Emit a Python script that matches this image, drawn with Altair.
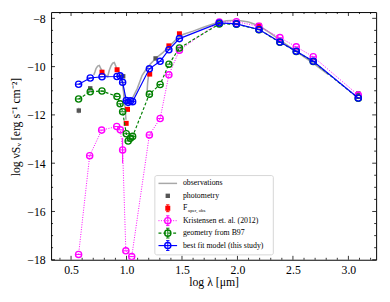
import altair as alt
import pandas as pd

# ---------------- data ----------------
model_x = [0.568, 0.673, 0.779, 0.914, 0.942, 0.965, 0.998, 1.015, 1.035, 1.055,
           1.206, 1.303, 1.382, 1.477, 1.836, 1.991, 2.194, 2.383, 2.530, 2.683, 3.089]
best_y = [-10.73, -10.47, -10.42, -10.41, -10.38, -10.65, -11.40, -11.48, -11.42, -11.45,
          -10.09, -9.78, -9.30, -8.84, -8.19, -8.23, -8.46, -8.98, -9.36, -9.78, -11.30]
geom_y = [-11.34, -11.04, -11.01, -11.24, -11.54, -11.87, -12.78, -13.08, -12.97, -12.89,
          -11.14, -10.74, -9.90, -9.23, -8.23, -8.24, -8.47, -8.99, -9.37, -9.79, -11.31]

kris_x = [0.568, 0.668, 0.776, 0.912, 0.944, 0.965, 0.994, 1.047, 1.206, 1.303,
          1.382, 1.477, 1.836, 1.991, 2.194, 2.383, 2.530, 2.683, 3.089]
kris_y = [-17.78, -13.69, -12.63, -12.48, -12.62, -13.45, -17.63, -17.87, -12.83, -12.15,
          -10.34, -9.32, -8.15, -8.14, -8.33, -8.80, -9.18, -9.59, -11.18]
kris_err_x = [0.965]
kris_err_lo = [-14.00]
kris_err_hi = [-12.95]

faper_x = [0.779, 0.915, 0.997, 1.009, 1.209, 1.382, 1.477, 2.194]
faper_y = [-10.23, -10.13, -12.35, -11.77, -10.31, -9.14, -8.64, -8.29]

phot_x = [0.570, 0.673, 0.970, 1.262, 3.089]
phot_y = [-11.82, -10.90, -10.40, -9.66, -11.11]
phot_err = [0.12, 0.05, 0.05, 0.05, 0.05]

obs_a_x = [0.705, 0.715, 0.725, 0.740, 0.755, 0.770, 0.790, 0.810, 0.830, 0.845, 0.860,
           0.875, 0.890, 0.905, 0.920, 0.940, 0.960, 0.975, 0.985, 1.000, 1.020]
obs_a_y = [-10.35, -10.22, -10.08, -9.98, -9.95, -10.10, -10.25, -10.35, -10.42, -10.15, -9.97,
           -9.86, -9.83, -10.00, -10.15, -10.30, -10.55, -11.00, -11.35, -11.45, -11.50]
obs_b_x = [0.955, 0.970, 0.985, 0.995]
obs_b_y = [-10.40, -10.90, -11.60, -12.20]
obs_c_x = [1.038, 1.097, 1.141, 1.170, 1.215, 1.274, 1.330, 1.390, 1.449, 1.508, 1.600,
           1.700, 1.800, 1.900, 2.000, 2.100, 2.200, 2.300, 2.400, 2.500, 2.600, 2.700, 2.820]
obs_c_y = [-11.45, -10.91, -10.36, -10.16, -9.89, -9.62, -9.41, -9.14, -8.87, -8.67, -8.53,
           -8.36, -8.20, -8.10, -8.08, -8.15, -8.32, -8.62, -8.95, -9.28, -9.60, -9.92, -10.33]
obs_d_x = [1.185, 1.190, 1.200]
obs_d_y = [-11.10, -10.70, -10.30]

x_major = [0.5, 1.0, 1.5, 2.0, 2.5, 3.0]
y_major = [-18, -16, -14, -12, -10, -8]

legend_labels = ["observations", "photometry", "F", "Kristensen et. al. (2012)",
                 "geometry from B97", "best fit model (this study)"]

# ---------------- layout ----------------
W, H = 332, 253
X_DOM = [0.32, 3.25]
Y_DOM = [-18.0, -7.74]
SERIF = "Liberation Serif"

BLUE, GREEN, PINK, RED = "#0000ff", "#008000", "#ff00ff", "#ff0000"
OBS, PHOT = "#a8a8a8", "#555555"


def dx(px):
    return X_DOM[0] + px / W * (X_DOM[1] - X_DOM[0])


def dy(py):
    return Y_DOM[1] - py / H * (Y_DOM[1] - Y_DOM[0])


xs = alt.Scale(domain=X_DOM, nice=False, zero=False)
ys = alt.Scale(domain=Y_DOM, nice=False, zero=False)
xaxis = alt.Axis(values=x_major, format=".1f", ticks=False, domain=False, grid=False,
                 labelFont=SERIF, labelFontSize=12, labelColor="black", labelPadding=5,
                 title="log λ [μm]", titleFont=SERIF, titleFontSize=12,
                 titleFontWeight="normal", titleColor="black", titlePadding=1)
yaxis = alt.Axis(values=y_major, format="d", ticks=False, domain=False, grid=False,
                 labelFont=SERIF, labelFontSize=12, labelColor="black", labelPadding=6,
                 title="log νSᵥ [erg s⁻¹ cm⁻²]", titleFont=SERIF, titleFontSize=12,
                 titleFontWeight="normal", titleColor="black",
                 titleAngle=270, titleX=-36, titleY=117, titleBaseline="middle",
                 titleAlign="center")


def X(f="x"):
    return alt.X(f, type="quantitative", scale=xs, axis=xaxis)


def Y(f="y"):
    return alt.Y(f, type="quantitative", scale=ys, axis=yaxis)


layers = []

# observations
obs_rows = []
for seg, (sx, sy) in enumerate([(obs_a_x, obs_a_y), (obs_b_x, obs_b_y),
                                (obs_c_x, obs_c_y), (obs_d_x, obs_d_y)]):
    for i, (a, b) in enumerate(zip(sx, sy)):
        obs_rows.append({"x": a, "y": b, "seg": seg, "i": i})
obs_df = pd.DataFrame(obs_rows)
layers.append(alt.Chart(obs_df).mark_line(color=OBS, strokeWidth=1.6, clip=True).encode(
    x=X(), y=Y(), detail="seg:N", order="i:Q"))

# photometry
phot_df = pd.DataFrame({"x": phot_x, "y": phot_y,
                        "lo": [a - e for a, e in zip(phot_y, phot_err)],
                        "hi": [a + e for a, e in zip(phot_y, phot_err)]})
layers.append(alt.Chart(phot_df).mark_rule(color=OBS, strokeWidth=1).encode(
    x=X(), y=Y("lo"), y2="hi"))
layers.append(alt.Chart(phot_df).mark_point(shape="square", filled=True, color=PHOT,
                                            size=20, opacity=1).encode(x=X(), y=Y()))

# F_aper,obs
faper_df = pd.DataFrame({"x": faper_x, "y": faper_y})
layers.append(alt.Chart(faper_df).mark_point(shape="square", filled=True, color=RED,
                                             size=26, opacity=1).encode(x=X(), y=Y()))


def model_layers(xv, yv, color, dash, width):
    df = pd.DataFrame({"x": xv, "y": yv, "i": list(range(len(xv)))})
    line_kw = dict(color=color, strokeWidth=width, clip=True)
    if dash:
        line_kw["strokeDash"] = dash
    out = [alt.Chart(df).mark_line(**line_kw).encode(x=X(), y=Y(), order="i:Q"),
           alt.Chart(df).mark_point(shape="circle", filled=False, color=color, size=40,
                                    strokeWidth=1.4, opacity=1, clip=True).encode(x=X(), y=Y()),
           alt.Chart(df).mark_point(shape="stroke", color=color, size=30,
                                    strokeWidth=1, opacity=1, clip=True).encode(x=X(), y=Y())]
    return out


# Kristensen error bar
kerr_df = pd.DataFrame({"x": kris_err_x, "lo": kris_err_lo, "hi": kris_err_hi})
layers.append(alt.Chart(kerr_df).mark_rule(color=PINK, strokeWidth=1).encode(
    x=X(), y=Y("lo"), y2="hi"))
layers += model_layers(kris_x, kris_y, PINK, [1, 1.5], 1)
layers += model_layers(model_x, geom_y, GREEN, [3, 2], 1.2)
layers += model_layers(model_x, best_y, BLUE, None, 1.2)

# ---------------- inward ticks ----------------
x_minor = [round(0.4 + 0.1 * k, 1) for k in range(29)]
x_minor = [v for v in x_minor if v not in x_major and X_DOM[0] < v < X_DOM[1]]
y_minor = [-18 + 0.5 * k for k in range(21)]
y_minor = [v for v in y_minor if v not in y_major and Y_DOM[0] < v < Y_DOM[1]]

for vals, ln in [(x_major, 4), (x_minor, 2)]:
    tdf = pd.DataFrame({"x": vals})
    layers.append(alt.Chart(tdf).mark_rule(color="black", strokeWidth=0.8).encode(
        x=X(), y=alt.value(H), y2=alt.value(H - ln)))
    layers.append(alt.Chart(tdf).mark_rule(color="black", strokeWidth=0.8).encode(
        x=X(), y=alt.value(0), y2=alt.value(ln)))
for vals, ln in [(y_major, 4), (y_minor, 2)]:
    tdf = pd.DataFrame({"y": vals})
    layers.append(alt.Chart(tdf).mark_rule(color="black", strokeWidth=0.8).encode(
        y=Y(), x=alt.value(0), x2=alt.value(ln)))
    layers.append(alt.Chart(tdf).mark_rule(color="black", strokeWidth=0.8).encode(
        y=Y(), x=alt.value(W), x2=alt.value(W - ln)))

# ---------------- legend ----------------
box = pd.DataFrame({"x": [dx(106)], "x2": [dx(227)], "y": [dy(167)], "y2": [dy(248)]})
layers.append(alt.Chart(box).mark_rect(fill="white", stroke="#cccccc", strokeWidth=0.8,
                                       cornerRadius=2).encode(
    x=X(), x2="x2", y=Y(), y2="y2"))

row_py = [175 + 12.7 * i for i in range(6)]
sym_x0, sym_x1, sym_c, txt_x = 109.7, 128.7, 119.2, 134.7

line_specs = {0: (OBS, None, 1.5), 3: (PINK, [1, 1.5], 1), 4: (GREEN, [3, 2], 1.2),
              5: (BLUE, None, 1.2)}
for r, (col, dash, wdt) in line_specs.items():
    ldf = pd.DataFrame({"x": [dx(sym_x0)], "x2": [dx(sym_x1)], "y": [dy(row_py[r])]})
    kw = dict(color=col, strokeWidth=wdt)
    if dash:
        kw["strokeDash"] = dash
    layers.append(alt.Chart(ldf).mark_rule(**kw).encode(x=X(), x2="x2", y=Y()))

# error-bar style symbols (vertical bar with caps)
for r, col in [(2, RED), (3, PINK), (4, GREEN), (5, BLUE)]:
    half = 3.5 if r == 2 else 5
    edf = pd.DataFrame({"x": [dx(sym_c)], "y": [dy(row_py[r] - half)], "y2": [dy(row_py[r] + half)]})
    layers.append(alt.Chart(edf).mark_rule(color=col, strokeWidth=1).encode(x=X(), y=Y(), y2="y2"))
    cdf = pd.DataFrame({"x": [dx(sym_c)] * 2, "y": [dy(row_py[r] - half), dy(row_py[r] + half)]})
    layers.append(alt.Chart(cdf).mark_point(shape="stroke", color=col, size=12, strokeWidth=1,
                                            opacity=1).encode(x=X(), y=Y()))

psym = pd.DataFrame({"x": [dx(sym_c)], "y": [dy(row_py[1])]})
layers.append(alt.Chart(psym).mark_point(shape="square", filled=True, color=PHOT, size=20,
                                         opacity=1).encode(x=X(), y=Y()))
rsym = pd.DataFrame({"x": [dx(sym_c)], "y": [dy(row_py[2])]})
layers.append(alt.Chart(rsym).mark_point(shape="square", filled=True, color=RED, size=26,
                                         opacity=1).encode(x=X(), y=Y()))
for r, col in [(3, PINK), (4, GREEN), (5, BLUE)]:
    cdf = pd.DataFrame({"x": [dx(sym_c)], "y": [dy(row_py[r])]})
    layers.append(alt.Chart(cdf).mark_point(shape="circle", filled=False, color=col, size=40,
                                            strokeWidth=1.4, opacity=1).encode(x=X(), y=Y()))

tdf = pd.DataFrame({"x": [dx(txt_x)] * 6, "y": [dy(p) for p in row_py], "t": legend_labels})
layers.append(alt.Chart(tdf).mark_text(align="left", baseline="middle", font=SERIF,
                                       fontSize=8, color="black").encode(
    x=X(), y=Y(), text="t:N"))
sdf = pd.DataFrame({"x": [dx(txt_x + 5.2)], "y": [dy(row_py[2] + 2)], "t": ["aper, obs"]})
layers.append(alt.Chart(sdf).mark_text(align="left", baseline="middle", font=SERIF,
                                       fontSize=5, color="black").encode(
    x=X(), y=Y(), text="t:N"))

chart = alt.layer(*layers).properties(
    width=W, height=H,
    autosize=alt.AutoSizeParams(type="none"),
    padding={"left": 44, "top": 1, "right": 6, "bottom": 40},
).configure_view(stroke="black", strokeWidth=1)

chart.save("out.html", embed_options={"renderer": "svg", "actions": False})
